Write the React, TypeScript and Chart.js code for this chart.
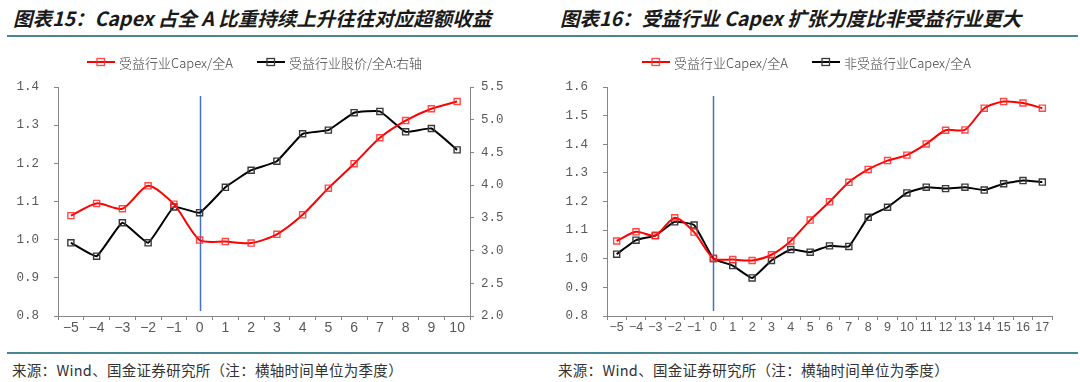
import React, { useEffect, useRef } from "react";
import { Chart, registerables } from "chart.js";

Chart.register(...registerables);

const leftLabels = ["−5", "−4", "−3", "−2", "−1", "0", "1", "2", "3", "4", "5", "6", "7", "8", "9", "10"];
const leftCapex = [1.063, 1.095, 1.081, 1.141, 1.093, 0.999, 0.995, 0.991, 1.014, 1.065, 1.135, 1.199, 1.267, 1.312, 1.343, 1.362];
const leftPrice = [3.119, 2.914, 3.425, 3.119, 3.666, 3.579, 3.967, 4.228, 4.366, 4.785, 4.841, 5.107, 5.127, 4.815, 4.866, 4.539];

const rightLabels = ["−5", "−4", "−3", "−2", "−1", "0", "1", "2", "3", "4", "5", "6", "7", "8", "9", "10", "11", "12", "13", "14", "15", "16", "17"];
const rightCapex = [1.062, 1.094, 1.081, 1.143, 1.093, 1.001, 0.997, 0.994, 1.014, 1.062, 1.135, 1.199, 1.267, 1.312, 1.343, 1.362, 1.401, 1.449, 1.45, 1.526, 1.549, 1.544, 1.526];
const rightNonCapex = [1.016, 1.065, 1.081, 1.129, 1.118, 1.001, 0.976, 0.933, 0.994, 1.032, 1.023, 1.045, 1.043, 1.145, 1.18, 1.23, 1.25, 1.245, 1.25, 1.24, 1.262, 1.273, 1.268];

const eventLabel = "0";

const TICK_COLOR = "#595959";
const AXIS_COLOR = "#868686";
const MONO = "'Liberation Mono', 'DejaVu Sans Mono', monospace";

const vlinePlugin = {
  id: "vline",
  beforeDatasetsDraw(chart: any) {
    const xs = chart.scales.x;
    const idx = (chart.data.labels as string[]).indexOf(eventLabel);
    const x = Math.round(xs.getPixelForValue(idx)) + 0.5;
    const { top, bottom } = chart.chartArea;
    const ctx = chart.ctx;
    ctx.save();
    ctx.strokeStyle = "#4472C4";
    ctx.lineWidth = 1.5;
    ctx.beginPath();
    ctx.moveTo(x, top + 9);
    ctx.lineTo(x, bottom - 5);
    ctx.stroke();
    ctx.restore();
  },
};

function series(label: string, data: number[], color: string, marker: string, axis: string, tension: number) {
  return {
    label,
    data,
    yAxisID: axis,
    borderColor: color,
    borderWidth: 2,
    tension,
    pointStyle: "rect",
    pointRadius: 4.3,
    pointHoverRadius: 4.3,
    pointBorderColor: marker,
    pointBackgroundColor: "rgba(255,255,255,0)",
    pointBorderWidth: 1.4,
    fill: false,
  };
}

function gridOpts() {
  return {
    display: true,
    drawOnChartArea: false,
    drawTicks: true,
    tickLength: 4,
    color: AXIS_COLOR,
    lineWidth: 1,
  };
}

function xAxis(font: any, height: number) {
  return {
    type: "category",
    offset: true,
    grid: { ...gridOpts(), offset: true },
    border: { display: true, color: AXIS_COLOR, width: 1 },
    ticks: { color: TICK_COLOR, font, padding: 0, autoSkip: false, maxRotation: 0, minRotation: 0 },
    afterFit(s: any) {
      s.height = height;
    },
  };
}

function yAxis(position: string, min: number, max: number, step: number, width: number, padding: number) {
  return {
    type: "linear",
    position,
    min,
    max,
    grid: gridOpts(),
    border: { display: true, color: AXIS_COLOR, width: 1 },
    ticks: {
      stepSize: step,
      color: TICK_COLOR,
      font: { family: MONO, size: 12.5 },
      padding,
      callback: (v: any) => Number(v).toFixed(1),
    },
    afterFit(s: any) {
      s.width = width;
    },
  };
}

function LegendMark({ color, marker }: { color: string; marker: string }) {
  return (
    <svg width="28" height="12" style={{ display: "inline-block", verticalAlign: "middle" }}>
      <line x1="0" y1="6" x2="28" y2="6" stroke={color} strokeWidth="2" />
      <rect x="10" y="2.5" width="7.5" height="7" fill="none" stroke={marker} strokeWidth="1.3" />
    </svg>
  );
}

function LegendItem({ left, color, marker, text }: { left: number; color: string; marker: string; text: string }) {
  return (
    <div style={{ position: "absolute", left, top: 53, height: 18, display: "flex", alignItems: "center", whiteSpace: "nowrap" }}>
      <LegendMark color={color} marker={marker} />
      <span style={{ marginLeft: 4, fontSize: 13, color: "#404040", fontFamily: "'Noto Sans CJK SC', sans-serif", fontWeight: 300 }}>{text}</span>
    </div>
  );
}

function LeftChart() {
  const ref = useRef<HTMLCanvasElement | null>(null);
  useEffect(() => {
    if (!ref.current) return;
    const chart = new Chart(ref.current, {
      type: "line",
      data: {
        labels: leftLabels,
        datasets: [
          series("受益行业Capex/全A", leftCapex, "#FF0000", "rgba(255,40,40,0.85)", "y", 0.25) as any,
          series("受益行业股价/全A:右轴", leftPrice, "#000000", "#3a3a3a", "y1", 0.12) as any,
        ],
      },
      options: {
        animation: false,
        responsive: false,
        layout: { padding: { top: 27, left: 0, right: 0, bottom: 0 } },
        plugins: { legend: { display: false }, tooltip: { enabled: false } },
        scales: {
          x: xAxis({ family: "'Liberation Sans', Arial, sans-serif", size: 14 }, 282 - 27 - 229),
          y: yAxis("left", 0.8, 1.4, 0.1, 58, 15),
          y1: yAxis("right", 2.0, 5.5, 0.5, 70, 7),
        } as any,
      },
      plugins: [vlinePlugin],
    });
    return () => chart.destroy();
  }, []);
  return <canvas ref={ref} width={540} height={282} style={{ position: "absolute", left: 0, top: 60, width: 540, height: 282 }} />;
}

function RightChart() {
  const ref = useRef<HTMLCanvasElement | null>(null);
  useEffect(() => {
    if (!ref.current) return;
    const chart = new Chart(ref.current, {
      type: "line",
      data: {
        labels: rightLabels,
        datasets: [
          series("受益行业Capex/全A", rightCapex, "#FF0000", "rgba(255,40,40,0.85)", "y", 0.25) as any,
          series("非受益行业Capex/全A", rightNonCapex, "#000000", "#3a3a3a", "y", 0.12) as any,
        ],
      },
      options: {
        animation: false,
        responsive: false,
        layout: { padding: { top: 27, left: 0, right: 28, bottom: 0 } },
        plugins: { legend: { display: false }, tooltip: { enabled: false } },
        scales: {
          x: xAxis({ family: "'Liberation Sans', Arial, sans-serif", size: 12.5 }, 282 - 27 - 229),
          y: yAxis("left", 0.8, 1.6, 0.1, 67, 15),
        } as any,
      },
      plugins: [vlinePlugin],
    });
    return () => chart.destroy();
  }, []);
  return <canvas ref={ref} width={540} height={282} style={{ position: "absolute", left: 540, top: 60, width: 540, height: 282 }} />;
}

const titleStyle: React.CSSProperties = {
  position: "absolute",
  top: 4,
  fontFamily: "'Noto Sans CJK SC', sans-serif",
  fontWeight: 700,
  fontStyle: "italic",
  fontSize: 19.5,
  color: "#1a1a1a",
  whiteSpace: "nowrap",
  lineHeight: "28px",
};

const sourceStyle: React.CSSProperties = {
  position: "absolute",
  top: 360,
  fontFamily: "'Noto Sans CJK SC', sans-serif",
  fontSize: 14.5,
  letterSpacing: 0.3,
  color: "#333333",
  whiteSpace: "nowrap",
  lineHeight: "20px",
};

export default function App() {
  return (
    <div style={{ position: "absolute", left: 0, top: 0, width: 1080, height: 382, background: "#ffffff", overflow: "hidden" }}>
      <div style={{ ...titleStyle, left: 13 }}>图表15：Capex 占全 A 比重持续上升往往对应超额收益</div>
      <div style={{ ...titleStyle, left: 560 }}>图表16：受益行业 Capex 扩张力度比非受益行业更大</div>
      <div style={{ position: "absolute", left: 7, top: 35, width: 1071, height: 1.5, background: "#4A8595" }} />
      <div style={{ position: "absolute", left: 7, top: 352, width: 1071, height: 1.5, background: "#4A8595" }} />
      <LeftChart />
      <RightChart />
      <LegendItem left={87} color="#FF0000" marker="rgba(255,40,40,0.85)" text="受益行业Capex/全A" />
      <LegendItem left={257} color="#000000" marker="#3a3a3a" text="受益行业股价/全A:右轴" />
      <LegendItem left={642} color="#FF0000" marker="rgba(255,40,40,0.85)" text="受益行业Capex/全A" />
      <LegendItem left={812} color="#000000" marker="#3a3a3a" text="非受益行业Capex/全A" />
      <div style={{ ...sourceStyle, left: 12 }}>来源：Wind、国金证券研究所（注：横轴时间单位为季度）</div>
      <div style={{ ...sourceStyle, left: 558 }}>来源：Wind、国金证券研究所（注：横轴时间单位为季度）</div>
    </div>
  );
}
